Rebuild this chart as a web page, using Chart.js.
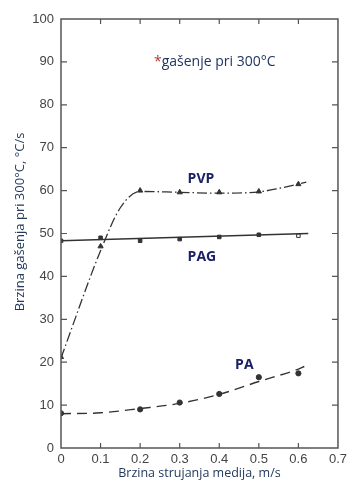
<!DOCTYPE html>
<html>
<head>
<meta charset="utf-8">
<script src="https://cdn.jsdelivr.net/npm/chart.js@4.4.1/dist/chart.umd.min.js"></script>
<style>
html,body{margin:0;padding:0;background:#fff;}
#wrap{width:351px;height:485px;position:relative;}
</style>
</head>
<body>
<div id="wrap"><canvas id="c" width="351" height="485"></canvas></div>
<script>
// ---- data ----
const xValues = [0, 0.1, 0.2, 0.3, 0.4, 0.5, 0.6];
const pvpPoints = [21.2, 47, 60, 59.6, 59.6, 59.8, 61.5];
const pagPoints = [48.3, 49, 48.3, 48.7, 49.2, 49.7, 49.5];
const paPoints  = [8.1, null, 9, 10.6, 12.6, 16.5, 17.4];

// fitted curves
const pvpCurveX = [0, 0.1, 0.15, 0.2, 0.3, 0.4, 0.5, 0.55, 0.62];
const pvpCurveY = [21, 46, 56, 59.8, 59.6, 59.4, 59.7, 60.5, 62];
const pagCurveX = [0, 0.625];
const pagCurveY = [48.3, 50];
const paCurveX  = [0, 0.1, 0.2, 0.3, 0.4, 0.5, 0.6, 0.615];
const paCurveY  = [8, 8.2, 9.2, 10.4, 12.5, 15.5, 18.4, 19];

const xTickLabels = ['0', '0.1', '0.2', '0.3', '0.4', '0.5', '0.6', '0.7'];
const yTickValues = [0, 10, 20, 30, 40, 50, 60, 70, 80, 90, 100];

const seriesNames = ['PVP', 'PAG', 'PA'];
const noteText = '*gašenje pri 300°C';
const xTitle = 'Brzina strujanja medija, m/s';
const yTitle = 'Brzina gašenja pri 300°C, °C/s';

function pts(xs, ys) { return xs.map((x, i) => ({x: x, y: ys[i]})).filter(p => p.y !== null); }

const ink = '#333';

const decor = {
  id: 'decor',
  afterDatasetsDraw(chart) {
    const ctx = chart.ctx, a = chart.chartArea;
    const xs = chart.scales.x, ys = chart.scales.y;
    ctx.save();
    // frame
    ctx.strokeStyle = '#555';
    ctx.lineWidth = 1.5;
    ctx.strokeRect(a.left, a.top, a.right - a.left, a.bottom - a.top);
    // inward ticks
    ctx.lineWidth = 1.2;
    ctx.beginPath();
    for (let v = 10; v <= 90; v += 10) {
      const py = ys.getPixelForValue(v);
      ctx.moveTo(a.left, py); ctx.lineTo(a.left + 6, py);
      ctx.moveTo(a.right, py); ctx.lineTo(a.right - 6, py);
    }
    for (let i = 1; i <= 6; i++) {
      const px = xs.getPixelForValue(xValues[i]);
      ctx.moveTo(px, a.top); ctx.lineTo(px, a.top + 5);
      ctx.moveTo(px, a.bottom); ctx.lineTo(px, a.bottom - 5);
    }
    ctx.stroke();
    // note
    ctx.textBaseline = 'middle';
    ctx.textAlign = 'left';
    ctx.font = '14px "Open Sans"';
    const nx = xs.getPixelForValue(0.235), ny = ys.getPixelForValue(90);
    ctx.fillStyle = '#b03a2e';
    ctx.fillText('*', nx, ny);
    const sw = ctx.measureText('*').width;
    ctx.fillStyle = '#1f3560';
    ctx.fillText(noteText.slice(1), nx + sw, ny);
    // series labels
    ctx.font = 'bold 14px "Open Sans"';
    ctx.fillStyle = '#1c2064';
    const lab = [[0.32, 62.7], [0.32, 44.6], [0.44, 19.3]];
    seriesNames.forEach((n, i) => {
      ctx.fillText(n, xs.getPixelForValue(lab[i][0]), ys.getPixelForValue(lab[i][1]));
    });
    // y-axis title
    ctx.save();
    ctx.translate(20, 222);
    ctx.rotate(-Math.PI / 2);
    ctx.textAlign = 'center';
    ctx.font = '13px "Open Sans"';
    ctx.fillStyle = '#23395d';
    ctx.fillText(yTitle, 0, 0);
    ctx.restore();
    ctx.restore();
  }
};

new Chart(document.getElementById('c'), {
  type: 'scatter',
  data: {
    datasets: [
      {data: pts(pvpCurveX, pvpCurveY), showLine: true, borderColor: ink, borderWidth: 1.3,
       borderDash: [10, 3, 1.5, 3], pointRadius: 0, cubicInterpolationMode: 'monotone'},
      {data: pts(pagCurveX, pagCurveY), showLine: true, borderColor: ink, borderWidth: 1.5,
       pointRadius: 0},
      {data: pts(paCurveX, paCurveY), showLine: true, borderColor: ink, borderWidth: 1.4,
       borderDash: [10, 6], pointRadius: 0, cubicInterpolationMode: 'monotone'},
      {data: pts(xValues, pvpPoints), showLine: false, pointStyle: 'triangle', pointRadius: 3,
       backgroundColor: ink, borderColor: ink, borderWidth: 1},
      {data: pts(xValues, pagPoints), showLine: false, pointStyle: 'rect', pointRadius: 2.5,
       backgroundColor: [ink, ink, ink, ink, ink, ink, '#fff'], borderColor: ink, borderWidth: 1},
      {data: pts(xValues, paPoints), showLine: false, pointStyle: 'circle', pointRadius: 2.6,
       backgroundColor: ink, borderColor: ink, borderWidth: 1}
    ]
  },
  options: {
    responsive: false,
    animation: false,
    layout: {padding: {left: 0, right: 7, top: 19, bottom: 0}},
    plugins: {legend: {display: false}, tooltip: {enabled: false}},
    scales: {
      x: {
        type: 'linear', min: 0, max: 0.7,
        afterBuildTicks(s) { s.ticks = xTickLabels.map((t, i) => ({value: i / 10})); },
        afterFit(s) { s.height = 37; },
        grid: {display: false, drawTicks: false},
        border: {display: false},
        ticks: {padding: 4, color: '#444', font: {family: 'Liberation Sans', size: 13},
                maxRotation: 0, autoSkip: false,
                callback: (v, i) => xTickLabels[i]},
        title: {display: true, text: xTitle, color: '#23395d',
                font: {family: 'Open Sans', size: 12.5}, padding: {top: 0, bottom: 4}}
      },
      y: {
        min: 0, max: 100,
        afterBuildTicks(s) { s.ticks = yTickValues.map(v => ({value: v})); },
        afterFit(s) { s.width = 61; },
        grid: {display: false, drawTicks: false},
        border: {display: false},
        ticks: {padding: 7, color: '#444', font: {family: 'Liberation Sans', size: 13}, autoSkip: false},
        title: {display: false}
      }
    }
  },
  plugins: [decor]
});
</script>
</body>
</html>
